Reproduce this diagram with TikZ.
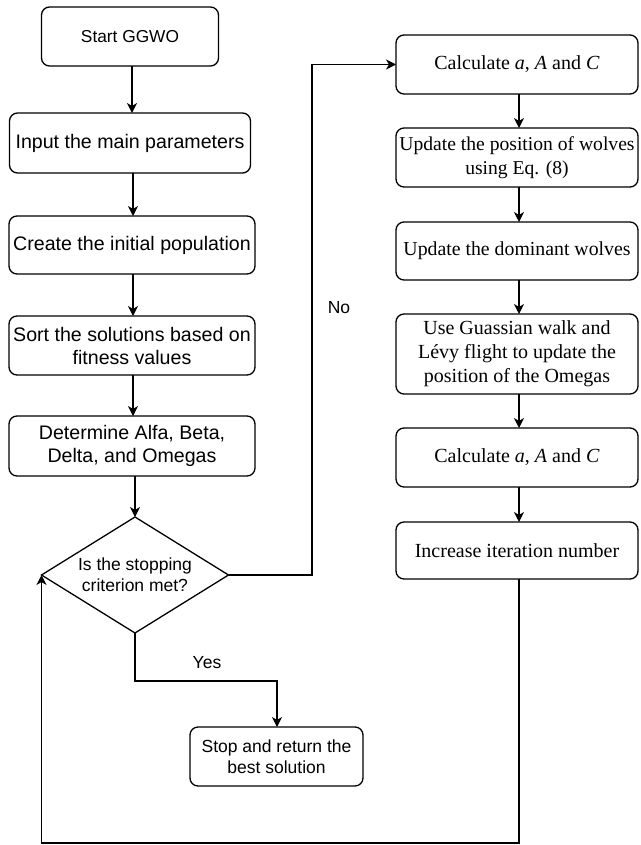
\documentclass[tikz,border=0pt]{standalone}
\usepackage{fontspec}
\setmainfont{Liberation Serif}
\setsansfont{Liberation Sans}
\usetikzlibrary{shapes.geometric,arrows.meta}
\begin{document}
\begin{tikzpicture}[x=1pt,y=-1pt,
  every node/.style={inner sep=0pt, outer sep=0pt},
  box/.style={draw, line width=1.3pt, rounded corners=8pt, align=center},
  sbox/.style={box, font=\sffamily\fontsize{19.6}{23}\selectfont},
  tbox/.style={box, font=\fontsize{20}{24}\selectfont},
  conn/.style={line width=1.3pt},
  arr/.style={conn, -{Stealth[length=10pt,width=10pt,inset=3pt]}},
  lbl/.style={font=\sffamily\fontsize{17.5}{21}\selectfont}
]
\useasboundingbox (0,0) rectangle (640,845);
\fill[white] (0,0) rectangle (640,845);

% left column
\node[sbox, minimum width=177pt, minimum height=59pt, font=\sffamily\fontsize{17.3}{21}\selectfont] (start) at (130,36.5) {Start GGWO};
\node[sbox, minimum width=241pt, minimum height=60pt] (input) at (130,143) {Input the main parameters};
\node[sbox, minimum width=246pt, minimum height=58pt] (create) at (132,245) {Create the initial population};
\node[sbox, minimum width=246pt, minimum height=59pt] (sort) at (132,345.5) {Sort the solutions based on\\fitness values};
\node[sbox, minimum width=246pt, minimum height=60pt] (det) at (132,446) {Determine Alfa, Beta,\\Delta, and Omegas};
\node[draw, line width=1.3pt, shape=diamond, shape aspect=1.6, minimum width=187pt, minimum height=116pt, align=center, lbl] (dec) at (135,575) {Is the stopping\\criterion met?};
\node[box, lbl, minimum width=173pt, minimum height=59pt] (stop) at (276.5,756.5) {Stop and return the\\best solution};

% right column
\node[tbox, minimum width=242pt, minimum height=59pt] (calc1) at (517,64.5) {Calculate \textit{a}, \textit{A} and \textit{C}};
\node[tbox, minimum width=242pt, minimum height=59pt, font=\fontsize{19.6}{24}\selectfont] (upd) at (517,157.5) {Update the position of wolves\\using Eq. (8)};
\node[tbox, minimum width=242pt, minimum height=58pt, font=\fontsize{19.8}{24}\selectfont] (dom) at (517,251) {Update the dominant wolves};
\node[tbox, minimum width=242pt, minimum height=80pt] (omg) at (517,354) {Use Guassian walk and\\L\'evy flight to update the\\position of the Omegas};
\node[tbox, minimum width=242pt, minimum height=59pt] (calc2) at (517,457.5) {Calculate \textit{a}, \textit{A} and \textit{C}};
\node[tbox, minimum width=242pt, minimum height=57pt] (inc) at (517,550.5) {Increase iteration number};

% coordinates
\coordinate (nob) at (312,575);
\coordinate (not) at (312,64.5);
\coordinate (ya) at (135,681);
\coordinate (yb) at (277,681);
\coordinate (la) at (519,843);
\coordinate (lb) at (dec.west |- la);

% left arrows
\draw[arr] (start.south -| 132,0) -- (input.north -| 132,0);
\draw[arr] (input.south -| 133,0) -- (create.north -| 133,0);
\draw[arr] (create.south -| 133,0) -- (sort.north -| 133,0);
\draw[arr] (sort.south -| 133,0) -- (det.north -| 133,0);
\draw[arr] (det.south -| 135,0) -- (dec.north);

% right arrows
\draw[arr] (calc1.south -| 519,0) -- (upd.north -| 519,0);
\draw[arr] (upd.south -| 519,0) -- (dom.north -| 519,0);
\draw[arr] (dom.south -| 519,0) -- (omg.north -| 519,0);
\draw[arr] (omg.south -| 519,0) -- (calc2.north -| 519,0);
\draw[arr] (calc2.south -| 519,0) -- (inc.north -| 519,0);

% decision branches
\draw[arr] (dec.east) -- (nob) -- (not) -- (calc1.west);
\draw[arr] (dec.south) -- (ya) -- (yb) -- (stop.north -| yb);
\draw[arr] (inc.south -| la) -- (la) -- (lb) -- (dec.west);

\node[lbl] (no) at (339,308) {No};
\node[lbl] (yes) at (207,663) {Yes};
\end{tikzpicture}
\end{document}
